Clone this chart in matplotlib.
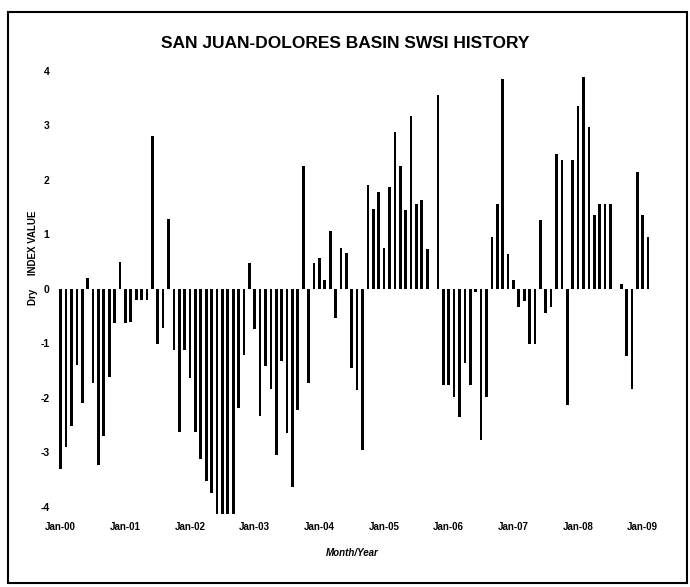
import numpy as np
import matplotlib.pyplot as plt
from matplotlib.patches import Rectangle

# monthly SWSI values, Jan-00 .. Feb-09
swsi_2000 = [-3.31, -2.91, -2.52, -1.39, -2.10, 0.20, -1.72, -3.23, -2.71, -1.62, -0.63, 0.49]
swsi_2001 = [-0.63, -0.61, -0.21, -0.21, -0.21, 2.80, -1.01, -0.72, 1.28, -1.12, -2.62, -1.12]
swsi_2002 = [-1.64, -2.62, -3.13, -3.53, -3.74, -4.13, -4.13, -4.13, -4.13, -2.19, -1.22, 0.48]
swsi_2003 = [-0.74, -2.33, -1.42, -1.83, -3.05, -1.33, -2.64, -3.63, -2.22, 2.26, -1.73, 0.48]
swsi_2004 = [0.57, 0.17, 1.06, -0.53, 0.75, 0.65, -1.45, -1.85, -2.96, 1.90, 1.46, 1.77]
swsi_2005 = [0.75, 1.87, 2.87, 2.26, 1.45, 3.18, 1.56, 1.63, 0.74, 0.0, 3.56, -1.77]
swsi_2006 = [-1.77, -1.98, -2.36, -1.37, -1.77, -0.05, -2.78, -1.98, 0.96, 1.55, 3.85, 0.63]
swsi_2007 = [0.17, -0.33, -0.23, -1.02, -1.02, 1.26, -0.45, -0.33, 2.47, 2.36, -2.13, 2.36]
swsi_2008 = [3.36, 3.88, 2.97, 1.36, 1.56, 1.56, 1.56, 0.0, 0.08, -1.24, -1.83, 2.14]
swsi_2009 = [1.36, 0.95]

year_labels = ["Jan-00", "Jan-01", "Jan-02", "Jan-03", "Jan-04",
               "Jan-05", "Jan-06", "Jan-07", "Jan-08", "Jan-09"]
y_ticks = [-4, -3, -2, -1, 0, 1, 2, 3, 4]

values = np.array(swsi_2000 + swsi_2001 + swsi_2002 + swsi_2003 + swsi_2004
                  + swsi_2005 + swsi_2006 + swsi_2007 + swsi_2008 + swsi_2009)
months = np.arange(len(values))

plt.rcParams['font.family'] = ['Liberation Sans', 'DejaVu Sans']

fig = plt.figure(figsize=(6.9, 5.87), dpi=100)
ax = fig.add_axes([55 / 690, 1 - 516 / 587, 605 / 690, 456 / 587])

ax.bar(months, values, width=0.5, color="black")

ax.set_xlim(-1.06, 111.2)
ax.set_ylim(-4.17, 4.2)

ax.set_xticks(months[::12])
ax.set_xticklabels(year_labels, fontsize=7, fontweight="bold")
ax.set_yticks(y_ticks)
ax.set_yticklabels([str(t) for t in y_ticks], fontsize=7.5, fontweight="bold")
ax.tick_params(length=0, pad=4)

for s in ax.spines.values():
    s.set_visible(False)

# title and axis texts
fig.text(0.5, 1 - 43 / 587, "SAN JUAN-DOLORES BASIN SWSI HISTORY",
         ha="center", va="center", fontsize=12.5, fontweight="bold")
fig.text(352 / 690, 1 - 553 / 587, "Month/Year", ha="center", va="center",
         fontsize=7, fontweight="bold", style="italic")
fig.text(33 / 690, 1 - 258 / 587, "Dry     INDEX VALUE", rotation=90,
         ha="center", va="center", fontsize=7, fontweight="bold")

# outer frame of the scanned page
fig.patches.append(Rectangle((8 / 690, 1 - 583 / 587), 679 / 690, 571 / 587,
                             transform=fig.transFigure, fill=False,
                             edgecolor="black", linewidth=1.5))

fig.savefig("out.png", dpi=100)
